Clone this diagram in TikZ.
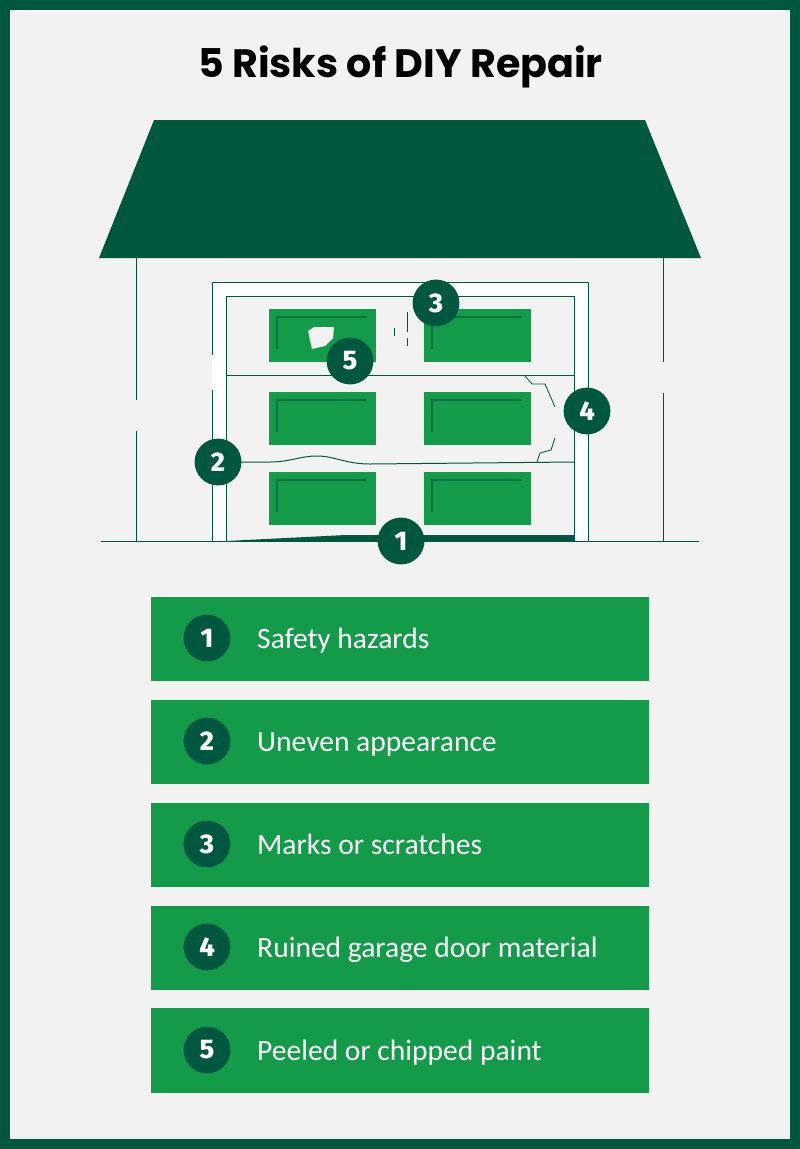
\documentclass[tikz,border=0pt]{standalone}
\usepackage{fontspec}
\setmainfont{Fira Sans}
\newfontfamily\titlefont{Poppins}
\newfontfamily\listfont{Carlito}
\newfontfamily\digitfont{Fira Sans ExtraBold}
\definecolor{darkgreen}{HTML}{00573F}
\definecolor{midgreen}{HTML}{149B4A}
\definecolor{linegreen}{HTML}{0F7F3F}
\definecolor{paper}{HTML}{F2F2F2}
\tikzset{
  badge/.style={circle, fill=darkgreen, text=white, minimum size=40pt, inner sep=0pt, font=\fontsize{23}{23}\selectfont\digitfont},
  bar/.style={fill=midgreen},
  barlabel/.style={anchor=base west, text=white, inner sep=0pt, font=\fontsize{25.2}{27}\selectfont\listfont},
  panel/.style={fill=midgreen},
  trim/.style={linegreen!70!darkgreen, line width=0.9pt},
  wire/.style={darkgreen, line width=0.85pt},
  fine/.style={darkgreen, line width=0.7pt}
}
\begin{document}
\begin{tikzpicture}[x=0.3mm,y=-0.3mm]
  \useasboundingbox (0,0) rectangle (800,1149);
  \fill[darkgreen] (0,0) rectangle (800,1149);
  \fill[paper] (10,10) rectangle (790,1139);

  \node[font=\fontsize{33.8}{36}\selectfont\titlefont\bfseries] (title) at (400.5,66.5) {5 Risks of DIY Repair};

  % house
  \fill[darkgreen] (154,120) -- (645,120) -- (701,258) -- (99,258) -- cycle;
  \draw[wire] (136,258) -- (136,400);
  \draw[wire] (136,431) -- (136,541);
  \draw[wire] (663,258) -- (663,362);
  \draw[wire] (663,393) -- (663,541);
  \draw[wire] (101,541) -- (699,541);

  % door frame
  \fill[white] (212,282) rectangle (588,541);
  \fill[paper] (226,296) rectangle (574,541);
  \draw[wire] (212,355) -- (212,282) -- (588,282) -- (588,541);
  \draw[wire] (212,390) -- (212,541);
  \draw[wire] (226,541) -- (226,296) -- (574,296) -- (574,541);
  \draw[wire] (226,375) -- (574,375);

  % door panels
  \fill[panel] (269,309) rectangle (376,362);
  \fill[panel] (424,309) rectangle (531,362);
  \fill[panel] (269,392) rectangle (376,445);
  \fill[panel] (424,392) rectangle (531,445);
  \fill[panel] (269,472) rectangle (376,525);
  \fill[panel] (424,472) rectangle (531,525);
  \draw[trim] (277,349) -- (277,317) -- (367,317);
  \draw[trim] (432,349) -- (432,317) -- (522,317);
  \draw[trim] (277,432) -- (277,400) -- (367,400);
  \draw[trim] (432,432) -- (432,400) -- (522,400);
  \draw[trim] (277,512) -- (277,480) -- (367,480);
  \draw[trim] (432,512) -- (432,480) -- (522,480);

  % damage
  \fill[paper] (308,331) -- (314,327) -- (334,327) -- (333,338) -- (325,346) -- (312,349) -- cycle;
  \draw[fine] (394,328) -- (394,336);
  \draw[fine] (407,312) -- (407,332);
  \draw[fine] (407,338) -- (407,346);
  \draw[fine] (525,376) -- (532,384) -- (545,384) -- (555,407);
  \draw[fine] (537,462) -- (540,453) -- (551,450) -- (555,438);
  \draw[wire] (226,462) -- (270,462) .. controls (290,462) and (300,456) .. (317,456) .. controls (335,456) and (345,464) .. (370,464) -- (574,462);
  \fill[darkgreen] (226,541) -- (346,535) -- (574,535) -- (574,541) -- cycle;

  % numbered spots on the door
  \node[badge] (spot1) at (401,541) {1};
  \node[badge] (spot2) at (218,462) {2};
  \node[badge] (spot3) at (436,303) {3};
  \node[badge] (spot4) at (587,411) {4};
  \node[badge] (spot5) at (350,361) {5};

  % risk list
  \fill[bar] (151,597) rectangle (649,681);
  \node[badge] (item1) at (207,638) {1};
  \node[barlabel] (label1) at (257,648) {Safety hazards};

  \fill[bar] (151,700) rectangle (649,784);
  \node[badge] (item2) at (207,741) {2};
  \node[barlabel] (label2) at (257,751) {Uneven appearance};

  \fill[bar] (151,803) rectangle (649,887);
  \node[badge] (item3) at (207,844) {3};
  \node[barlabel] (label3) at (257,854) {Marks or scratches};

  \fill[bar] (151,906) rectangle (649,990);
  \node[badge] (item4) at (207,947) {4};
  \node[barlabel] (label4) at (257,957) {Ruined garage door material};

  \fill[bar] (151,1008) rectangle (649,1093);
  \node[badge] (item5) at (207,1050) {5};
  \node[barlabel] (label5) at (257,1060) {Peeled or chipped paint};
\end{tikzpicture}
\end{document}
